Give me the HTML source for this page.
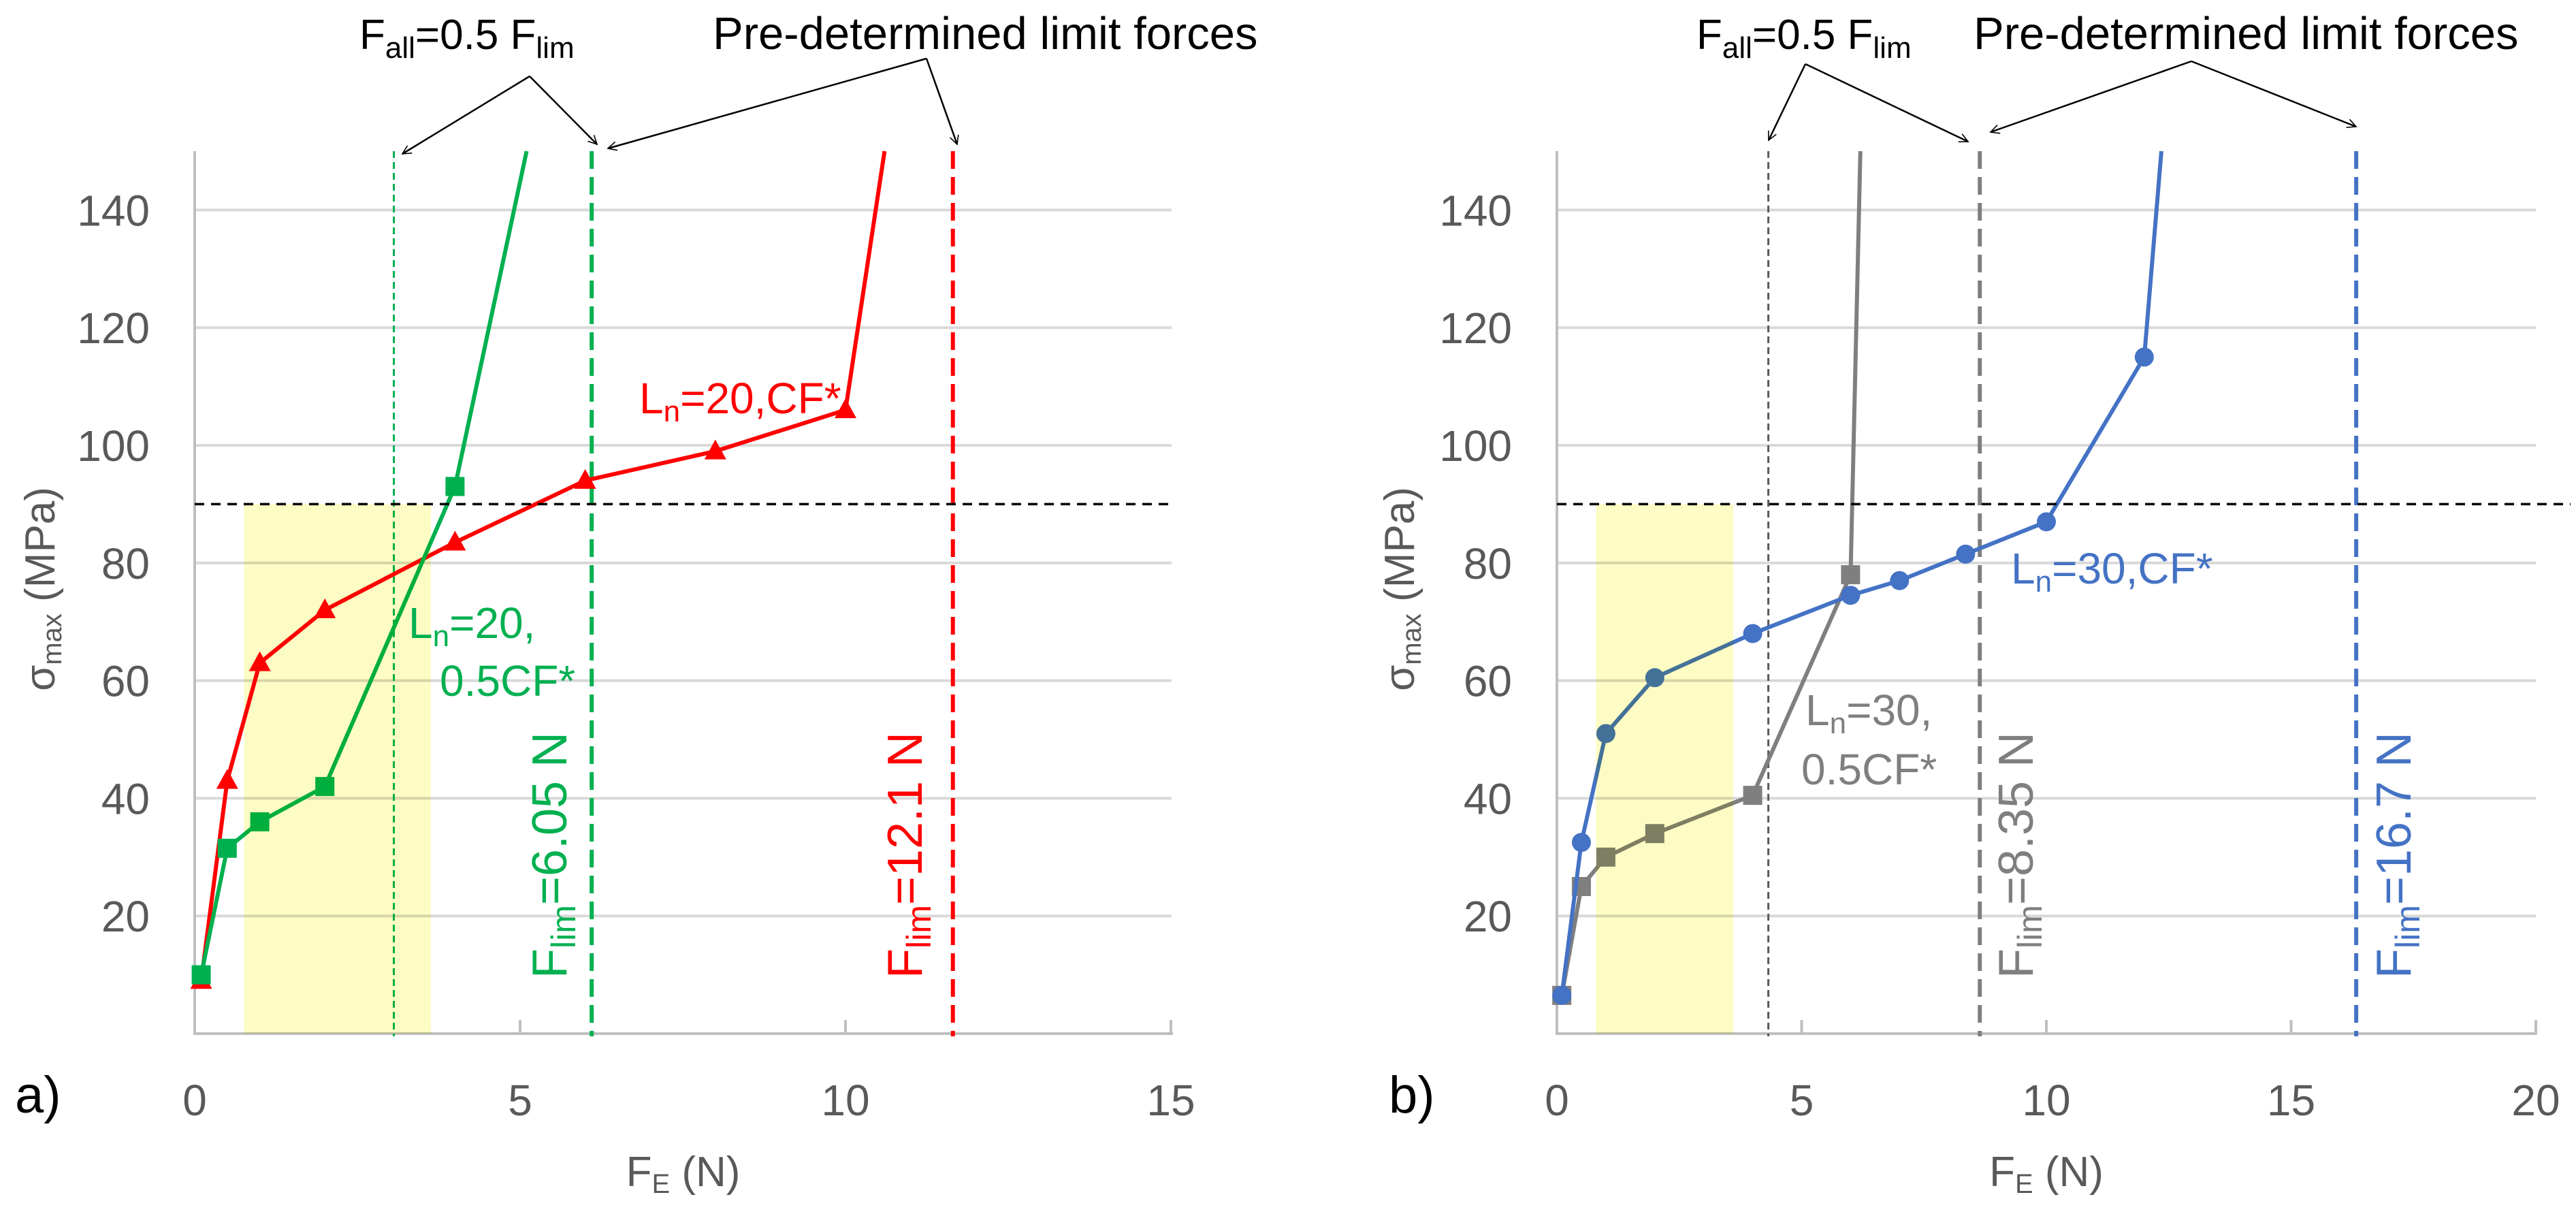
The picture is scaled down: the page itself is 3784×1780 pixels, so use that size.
<!DOCTYPE html>
<html><head><meta charset="utf-8"><style>
html,body{margin:0;padding:0;background:#fff;}
svg{display:block;font-family:"Liberation Sans",sans-serif;}
</style></head><body>
<svg id="chart" width="3784" height="1780" viewBox="0 0 3784 1780" xmlns="http://www.w3.org/2000/svg">
<defs>
<marker id="arr" viewBox="0 0 20 20" refX="18" refY="10" markerWidth="16" markerHeight="16" markerUnits="userSpaceOnUse" orient="auto"><path d="M2,2 L18,10 L2,18" fill="none" stroke="#000" stroke-width="2"/></marker>
</defs>
<g id="root"></g>
</svg>
<script>
// ---------- data ----------
const yTicks = [20, 40, 60, 80, 100, 120, 140];
const xTicksA = [0, 5, 10, 15];
const xTicksB = [0, 5, 10, 15, 20];
const redX = [0.1, 0.5, 1, 2, 4, 6, 8, 10, 10.6];
const redY = [9, 43, 63, 72, 83.5, 94, 99, 106, 150];
const redMarked = [0, 1, 2, 3, 4, 5, 6, 7];
const greenX = [0.1, 0.5, 1, 2, 4, 5.1];
const greenY = [10, 31.5, 36, 42, 93, 150];
const greenMarked = [0, 1, 2, 3, 4];
const blueX = [0.1, 0.5, 1, 2, 4, 6, 7, 8.35, 10, 12, 12.35];
const blueY = [6.5, 32.5, 51, 60.5, 68, 74.5, 77, 81.5, 87, 115, 150];
const blueMarked = [0, 1, 2, 3, 4, 5, 6, 7, 8, 9];
const grayX = [0.1, 0.5, 1, 2, 4, 6, 6.2];
const grayY = [6.5, 25, 30, 34, 40.5, 78, 150];
const grayMarked = [0, 1, 2, 3, 4, 5];
const limitStress = [90];
const bandA = [0.76, 3.63];
const bandB = [0.8, 3.6];
const vlinesA = [3.06, 6.1, 11.65];
const vlinesB = [4.32, 8.64, 16.33];

// ---------- helpers ----------
const NS = "http://www.w3.org/2000/svg";
const root = document.getElementById('root');
function mk(tag, attrs, parent) {
  const e = document.createElementNS(NS, tag);
  for (const k in attrs) e.setAttribute(k, attrs[k]);
  (parent || root).appendChild(e);
  return e;
}
const Y0 = 1518, YS = 8.64;
const yA = v => Y0 - v * YS;
const axA = { x0: 286, s: 95.6, right: 1721 };
const axB = { x0: 2287, s: 71.9, right: 3725 };

function drawAxes(ax, xt, prefix, yTitleX, letter, letterX) {
  const g = mk('g', {});
  
  
  yTicks.forEach(v => {
    const l = mk('line', { x1: ax.x0, x2: ax.right, y1: yA(v), y2: yA(v), stroke: '#d9d9d9', 'stroke-width': 4 }, g);
    
    
    const t = mk('text', { x: ax.x0 - 66, y: yA(v) + 23, 'text-anchor': 'end', 'font-size': 64, fill: '#595959' }, g);
    t.textContent = v;
    
    
  });
  mk('line', { x1: ax.x0, x2: ax.x0, y1: 222, y2: Y0, stroke: '#bfbfbf', 'stroke-width': 4 }, g);
  mk('line', { x1: ax.x0 - 2, x2: ax.right + 2, y1: Y0, y2: Y0, stroke: '#bfbfbf', 'stroke-width': 4 }, g);
  xt.forEach(v => {
    const x = ax.x0 + v * ax.s;
    mk('line', { x1: x, x2: x, y1: Y0, y2: Y0 - 20, stroke: '#bfbfbf', 'stroke-width': 4 }, g);
    const t = mk('text', { x: x, y: 1638, 'text-anchor': 'middle', 'font-size': 64, fill: '#595959' }, g);
    t.textContent = v;
    
    
  });
  const xt2 = mk('text', { x: (ax.x0 + ax.right) / 2, y: 1742, 'text-anchor': 'middle', 'font-size': 62, fill: '#595959' }, g);
  xt2.innerHTML = 'F<tspan font-size="40" dy="10">E</tspan><tspan dy="-10"> (N)</tspan>';
  
  
  const yt = mk('text', { x: 0, y: 0, 'text-anchor': 'middle', 'font-size': 62, fill: '#595959', transform: `translate(${yTitleX + 22},865) rotate(-90)` }, g);
  yt.innerHTML = 'σ<tspan font-size="40" dy="10">max</tspan><tspan dy="-10"> (MPa)</tspan>';
  
  
  const lt = mk('text', { x: letterX, y: 1634, 'font-size': 76, fill: '#000' }, g);
  lt.textContent = letter;
  
  
}

function drawSeries(ax, xs, ys, marked, color, shape, name) {
  const g = mk('g', {});
  
  
  const pts = xs.map((x, i) => (ax.x0 + x * ax.s) + ',' + yA(ys[i])).join(' ');
  mk('polyline', { points: pts, fill: 'none', stroke: color, 'stroke-width': 6, 'stroke-linejoin': 'round' }, g);
  marked.forEach(i => {
    const cx = ax.x0 + xs[i] * ax.s, cy = yA(ys[i]);
    let m;
    if (shape === 'sq') m = mk('rect', { x: cx - 14, y: cy - 14, width: 28, height: 28, fill: color }, g);
    else if (shape === 'tri') m = mk('polygon', { points: `${cx},${cy - 17} ${cx + 16},${cy + 12} ${cx - 16},${cy + 12}`, fill: color }, g);
    else m = mk('circle', { cx: cx, cy: cy, r: 14, fill: color }, g);
    
    
  });
}

function vline(ax, v, color, w, dash, name) {
  const x = ax.x0 + v * ax.s;
  const l = mk('line', { x1: x, x2: x, y1: 222, y2: Y0 + 4, stroke: color, 'stroke-width': w, 'stroke-dasharray': dash });
  
  
}
function band(ax, b, name) {
  const r = mk('rect', { x: ax.x0 + b[0] * ax.s, y: yA(limitStress[0]), width: (b[1] - b[0]) * ax.s, height: yA(0) - yA(limitStress[0]), fill: '#fdfcc4', style: 'mix-blend-mode:multiply' });
  
  
}
function label(x, y, html, color, size, rot, name) {
  const t = mk('text', { x: x, y: y, 'font-size': size, fill: color });
  if (rot) t.setAttribute('transform', `rotate(-90 ${x} ${y})`);
  t.innerHTML = html;
  
  
}
function arrow(x1, y1, x2, y2, name) {
  const l = mk('line', { x1, y1, x2, y2, stroke: '#000', 'stroke-width': 2.5, 'marker-end': 'url(#arr)' });
  
  
}

// ---------- panel a ----------
drawAxes(axA, xTicksA, 'panel-a', 58, 'a)', 22);
drawAxes(axB, xTicksB, 'panel-b', 2055, 'b)', 2040);
vline(axA, vlinesA[0], '#00b050', 3, '10,6', 'allowable-force-line-a');
vline(axA, vlinesA[1], '#00b050', 6, '26,12', 'limit-force-green-line');
vline(axA, vlinesA[2], '#ff0000', 6, '26,12', 'limit-force-red-line');
drawSeries(axA, redX, redY, redMarked, '#ff0000', 'tri', 'series-ln20-cf');
drawSeries(axA, greenX, greenY, greenMarked, '#00b050', 'sq', 'series-ln20-05cf');
band(axA, bandA, 'allowable-band-a');
const h1 = mk('line', { x1: axA.x0, x2: axA.right, y1: yA(limitStress[0]), y2: yA(limitStress[0]), stroke: '#000', 'stroke-width': 3.5, 'stroke-dasharray': '14,10' });



// ---------- panel b ----------
vline(axB, vlinesB[0], '#595959', 3, '10,6', 'allowable-force-line-b');
vline(axB, vlinesB[1], '#7f7f7f', 6, '26,12', 'limit-force-gray-line');
vline(axB, vlinesB[2], '#4472c4', 6, '26,12', 'limit-force-blue-line');
drawSeries(axB, grayX, grayY, grayMarked, '#7f7f7f', 'sq', 'series-ln30-05cf');
drawSeries(axB, blueX, blueY, blueMarked, '#4472c4', 'circ', 'series-ln30-cf');
band(axB, bandB, 'allowable-band-b');
const h2 = mk('line', { x1: axB.x0, x2: 3776, y1: yA(limitStress[0]), y2: yA(limitStress[0]), stroke: '#000', 'stroke-width': 3.5, 'stroke-dasharray': '14,10' });



// ---------- labels ----------
label(939, 607, 'L<tspan font-size="44" dy="12">n</tspan><tspan dy="-12">=20,CF*</tspan>', '#ff0000', 64, false, 'label-ln20-cf');
label(600, 937, 'L<tspan font-size="44" dy="12">n</tspan><tspan dy="-12">=20,</tspan>', '#00b050', 64, false, 'label-ln20-05cf-line1');
label(646, 1022, '0.5CF*', '#00b050', 64, false, 'label-ln20-05cf-line2');
label(2954, 857, 'L<tspan font-size="44" dy="12">n</tspan><tspan dy="-12">=30,CF*</tspan>', '#4472c4', 64, false, 'label-ln30-cf');
label(2652, 1065, 'L<tspan font-size="44" dy="12">n</tspan><tspan dy="-12">=30,</tspan>', '#7f7f7f', 64, false, 'label-ln30-05cf-line1');
label(2646, 1152, '0.5CF*', '#7f7f7f', 64, false, 'label-ln30-05cf-line2');
const vl = 'F<tspan font-size="50" dy="13">lim</tspan><tspan dy="-13">';
label(832, 1437, vl + '=6.05 N</tspan>', '#00b050', 72, true, 'label-flim-605');
label(1354, 1437, vl + '=12.1 N</tspan>', '#ff0000', 72, true, 'label-flim-121');
label(2986, 1437, vl + '=8.35 N</tspan>', '#7f7f7f', 72, true, 'label-flim-835');
label(3541, 1437, vl + '=16.7 N</tspan>', '#4472c4', 72, true, 'label-flim-167');

const fall = 'F<tspan font-size="44" dy="13">all</tspan><tspan dy="-13">=0.5 F</tspan><tspan font-size="44" dy="13">lim</tspan>';
label(528, 72, fall, '#000', 62, false, 'annotation-fall-a');
label(1047, 72, 'Pre-determined limit forces', '#000', 67, false, 'annotation-limit-forces-a');
label(2492, 72, fall, '#000', 62, false, 'annotation-fall-b');
label(2899, 72, 'Pre-determined limit forces', '#000', 67, false, 'annotation-limit-forces-b');
arrow(778, 112, 591, 226, 'arrow-fall-a1');
arrow(778, 112, 877, 212, 'arrow-fall-a2');
arrow(1361, 86, 893, 218, 'arrow-limit-a1');
arrow(1361, 86, 1406, 212, 'arrow-limit-a2');
arrow(2652, 94, 2598, 206, 'arrow-fall-b1');
arrow(2652, 94, 2891, 208, 'arrow-fall-b2');
arrow(3219, 90, 2924, 194, 'arrow-limit-b1');
arrow(3219, 90, 3461, 186, 'arrow-limit-b2');
</script>
</body></html>
